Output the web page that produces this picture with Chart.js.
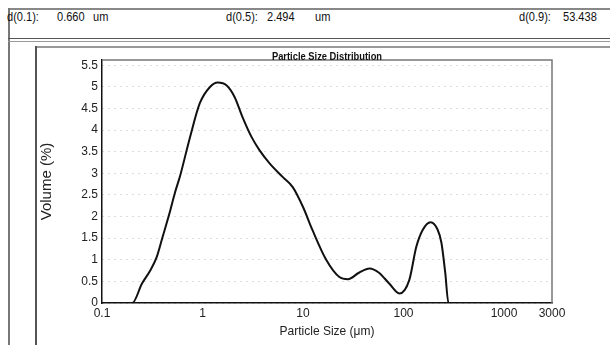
<!DOCTYPE html>
<html>
<head>
<meta charset="utf-8">
<script src="https://cdn.jsdelivr.net/npm/chart.js@4"></script>
<style>
  html, body { margin: 0; padding: 0; background: #fff; }
  body { width: 610px; height: 345px; position: relative; overflow: hidden; font-family: 'Liberation Sans', Arial, sans-serif; color: #111; }
  .line { position: absolute; background: #777; }
  .hdr { position: absolute; top: 10px; font-size: 12px; line-height: 14px; transform: scaleX(0.92); transform-origin: left center; }
  #plotTitle { position: absolute; left: 227px; width: 200px; top: 50px; text-align: center; font-weight: bold; font-size: 11px; line-height: 13px; color: #111; transform: scaleX(0.85); }
  #wrap { position: absolute; left: 36px; top: 46px; width: 574px; height: 299px; }
</style>
</head>
<body>
<div class="line" style="left:8px;top:8px;width:602px;height:2px;background:#888"></div>
<div class="line" style="left:8px;top:8px;width:1.5px;height:337px;background:#777"></div>
<div class="line" style="left:8px;top:38px;width:602px;height:1px;background:#555"></div>
<div class="line" style="left:8px;top:41px;width:602px;height:1px;background:#999"></div>
<div class="line" style="left:35px;top:46px;width:575px;height:1.5px;background:#999"></div>
<div class="line" style="left:35px;top:46px;width:1.5px;height:299px;background:#555"></div>

<div class="hdr" style="left:7px">d(0.1):</div>
<div class="hdr" style="left:57px">0.660</div>
<div class="hdr" style="left:93px">um</div>
<div class="hdr" style="left:226px">d(0.5):</div>
<div class="hdr" style="left:267px">2.494</div>
<div class="hdr" style="left:315px">um</div>
<div class="hdr" style="left:519px">d(0.9):</div>
<div class="hdr" style="left:563px">53.438</div>

<div id="wrap"><canvas id="psd"></canvas></div>
<div id="plotTitle">Particle Size Distribution</div>

<script>
// particle size (um) vs volume (%)
const sizes = [0.1, 0.2, 0.25, 0.3, 0.35, 0.4, 0.47, 0.53, 0.6, 0.75, 0.94, 1.18, 1.42, 1.74,
  2.09, 2.5, 3.09, 3.7, 4.65, 6.3, 7.9, 10, 12.4, 17, 23, 28, 36, 46, 57, 72, 91, 114, 134, 155,
  186, 218, 238, 260, 280, 2000];
const volume = [0, 0, 0.45, 0.74, 1.06, 1.52, 2.08, 2.54, 2.95, 3.83, 4.62, 4.99, 5.1, 5.03,
  4.76, 4.3, 3.83, 3.53, 3.23, 2.91, 2.68, 2.22, 1.69, 1.0, 0.6, 0.55, 0.7, 0.8, 0.7, 0.45, 0.22,
  0.53, 1.3, 1.69, 1.87, 1.7, 1.4, 0.7, 0, 0];

const xTicks = [0.1, 1, 10, 100, 1000, 3000];
const yTicks = [0, 0.5, 1, 1.5, 2, 2.5, 3, 3.5, 4, 4.5, 5, 5.5];

const sans = "'Liberation Sans', Arial, sans-serif";

const frame = {
  id: 'frame',
  beforeDatasetsDraw(chart) {
    const { ctx, chartArea: a } = chart;
    ctx.save();
    ctx.strokeStyle = '#777';
    ctx.lineWidth = 1.5;
    ctx.beginPath();
    ctx.moveTo(a.left, a.top);
    ctx.lineTo(a.right, a.top);
    ctx.lineTo(a.right, a.bottom);
    ctx.stroke();
    ctx.restore();
  }
};

new Chart(document.getElementById('psd'), {
  type: 'line',
  data: {
    datasets: [{
      data: sizes.map((s, i) => ({ x: s, y: volume[i] })),
      borderColor: '#111',
      borderWidth: 2,
      pointRadius: 0,
      fill: false,
      cubicInterpolationMode: 'monotone'
    }]
  },
  options: {
    responsive: true,
    maintainAspectRatio: false,
    animation: false,
    layout: { padding: { left: 0, top: 14, right: 58, bottom: 0 } },
    plugins: { legend: { display: false }, tooltip: { enabled: false } },
    scales: {
      x: {
        type: 'logarithmic',
        min: 0.1,
        max: 3000,
        afterBuildTicks: (s) => { s.ticks = xTicks.map((v) => ({ value: v })); },
        afterFit: (s) => { s.height = 42; },
        ticks: {
          color: '#222',
          font: { family: sans, size: 12 },
          padding: 3,
          maxRotation: 0,
          autoSkip: false,
          callback: (v) => String(v)
        },
        grid: { display: false, drawTicks: false },
        border: { color: '#111', width: 1.5 },
        title: {
          display: true,
          text: 'Particle Size (μm)',
          color: '#222',
          font: { family: sans, size: 12 },
          padding: { top: 0, bottom: 6 }
        }
      },
      y: {
        min: 0,
        max: 5.62,
        afterBuildTicks: (s) => { s.ticks = yTicks.map((v) => ({ value: v })); },
        afterFit: (s) => { s.width = 66; },
        ticks: {
          color: '#222',
          font: { family: sans, size: 12 },
          padding: 4,
          callback: (v) => String(v)
        },
        grid: {
          color: '#bbb',
          lineWidth: 1,
          drawTicks: false
        },
        border: { color: '#111', width: 1.5, dash: [1, 5] },
        title: {
          display: true,
          text: 'Volume (%)',
          color: '#222',
          font: { family: sans, size: 15 },
          padding: { top: 2, bottom: 0 }
        }
      }
    }
  },
  plugins: [frame]
});
</script>
</body>
</html>
